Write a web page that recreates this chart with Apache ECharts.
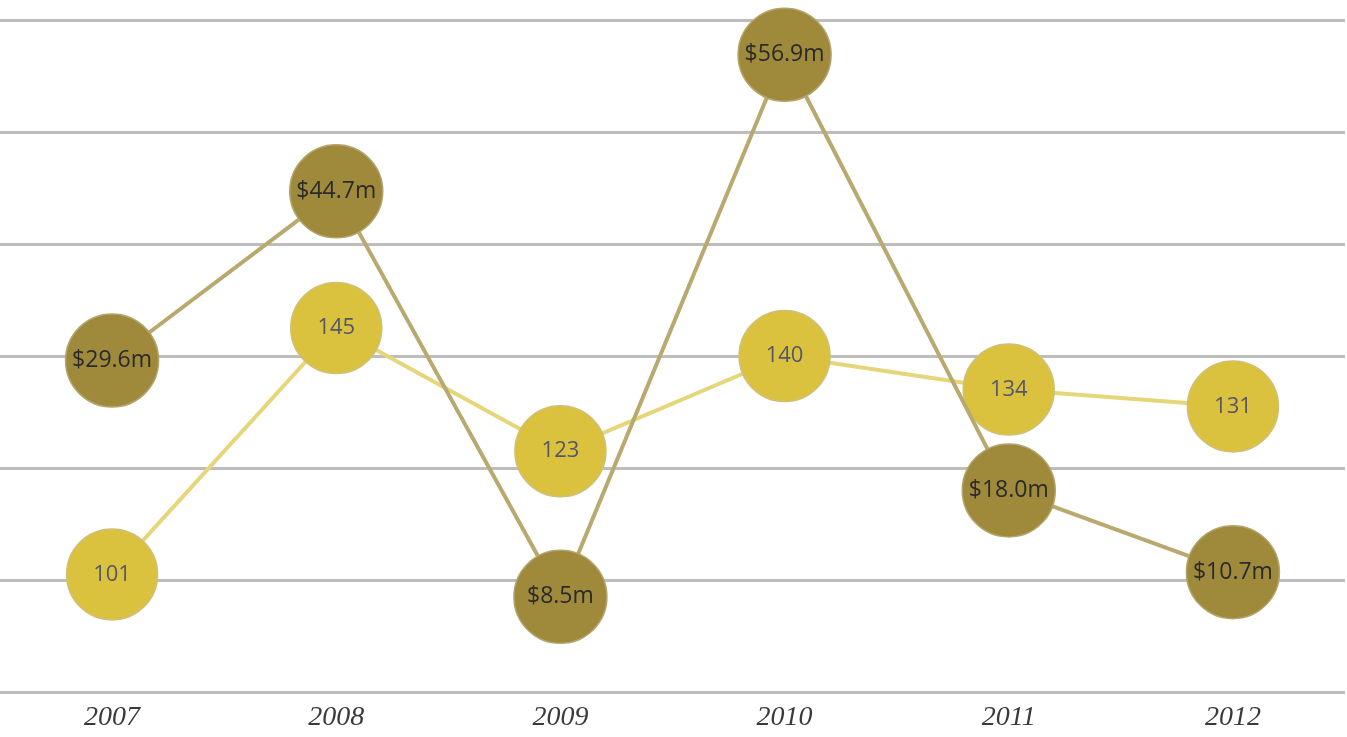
<!DOCTYPE html>
<html>
<head>
<meta charset="utf-8">
<script src="https://cdn.jsdelivr.net/npm/echarts@6/dist/echarts.min.js"></script>
<style>html,body{margin:0;padding:0;background:#fff;}#c{width:1347px;height:737px;}</style>
</head>
<body>
<div id="c"></div>
<script>
var categories = ['2007', '2008', '2009', '2010', '2011', '2012'];
var revenue = [29.6, 44.7, 8.5, 56.9, 18.0, 10.7];
var counts = [101, 145, 123, 140, 134, 131];

var chart = echarts.init(document.getElementById('c'));
chart.setOption({
  animation: false,
  backgroundColor: '#ffffff',
  grid: { left: 0, right: 2, top: 20, bottom: 45 },
  xAxis: {
    type: 'category',
    data: categories,
    boundaryGap: true,
    axisLine: { show: false },
    axisTick: { show: false },
    axisLabel: {
      fontFamily: 'Liberation Serif',
      fontStyle: 'italic',
      fontSize: 28,
      color: '#3a3a3a',
      margin: 12
    }
  },
  yAxis: [
    {
      type: 'value', min: 0, max: 60, interval: 10,
      axisLabel: { show: false },
      axisLine: { show: false },
      axisTick: { show: false },
      splitLine: { lineStyle: { color: '#bdbdbd', width: 3 } }
    },
    {
      type: 'value', min: 80, max: 200, interval: 20,
      axisLabel: { show: false },
      axisLine: { show: false },
      axisTick: { show: false },
      splitLine: { show: false }
    }
  ],
  series: [
    {
      name: 'Revenue',
      type: 'line',
      yAxisIndex: 0,
      data: revenue,
      symbol: 'circle',
      symbolSize: 93,
      z: 3,
      lineStyle: { color: '#b9a96f', width: 4 },
      itemStyle: { color: '#9f8a3c', borderColor: '#b3a46c', borderWidth: 1.5 },
      label: {
        show: true,
        position: 'inside',
        formatter: function (p) { return '$' + p.value.toFixed(1) + 'm'; },
        fontFamily: 'Open Sans',
        fontSize: 23,
        color: '#2a2a2a'
      }
    },
    {
      name: 'Count',
      type: 'line',
      yAxisIndex: 1,
      data: counts,
      symbol: 'circle',
      symbolSize: 91,
      z: 2,
      lineStyle: { color: '#e6d67a', width: 4 },
      itemStyle: { color: '#dbc23e', borderColor: '#cfbf7a', borderWidth: 1.5 },
      label: {
        show: true,
        position: 'inside',
        fontFamily: 'Open Sans',
        fontSize: 22,
        color: '#555768'
      }
    }
  ]
});
</script>
</body>
</html>
